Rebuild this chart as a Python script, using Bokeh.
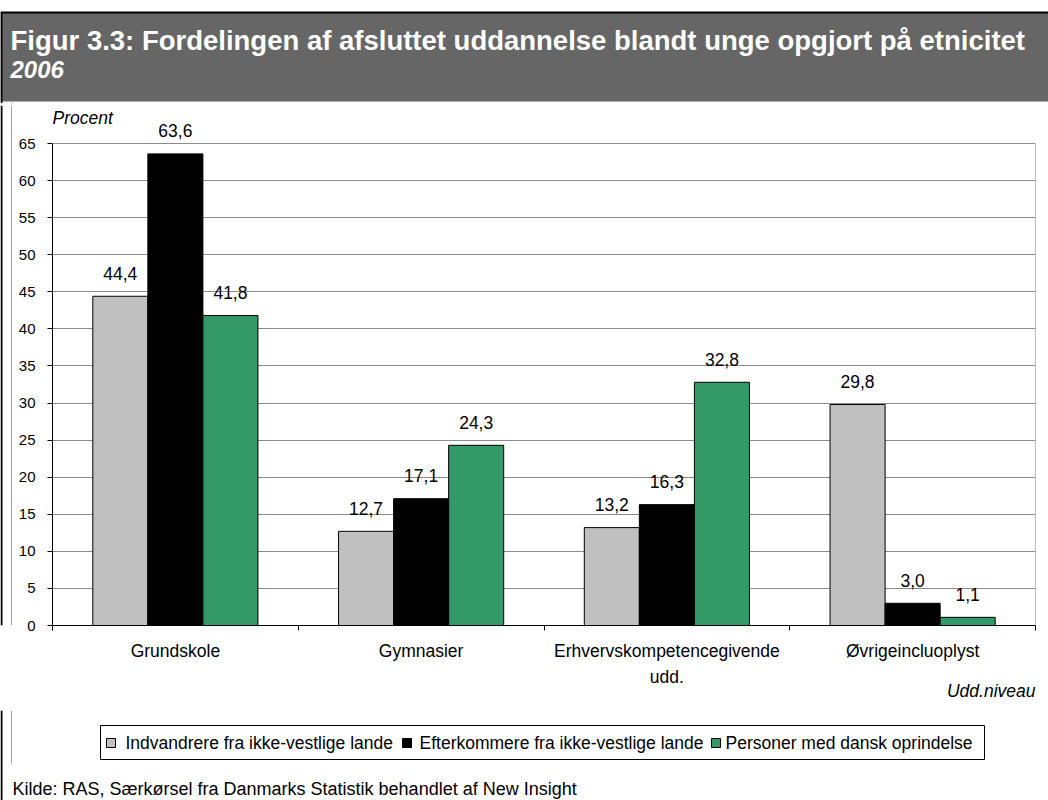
from bokeh.plotting import figure
from bokeh.models import Range1d, FixedTicker, Title
from bokeh.layouts import column, row
from bokeh.embed import file_html
from bokeh.resources import INLINE
from bokeh.core.properties import value

# ---------------- data ----------------
categories = ["Grundskole", "Gymnasier", "Erhvervskompetencegivende\nudd.", "Øvrigeincluoplyst"]
series_names = ["Indvandrere fra ikke-vestlige lande",
                "Efterkommere fra ikke-vestlige lande",
                "Personer med dansk oprindelse"]
indvandrere = [44.4, 12.7, 13.2, 29.8]
efterkommere = [63.6, 17.1, 16.3, 3.0]
dansk = [41.8, 24.3, 32.8, 1.1]
y_ticks = [0, 5, 10, 15, 20, 25, 30, 35, 40, 45, 50, 55, 60, 65]
y_max = 65
colors = ["#C0C0C0", "#000000", "#339966"]
title_text = "Figur 3.3: Fordelingen af afsluttet uddannelse blandt unge opgjort på etnicitet"
subtitle_text = "2006"
source_text = "Kilde: RAS, Særkørsel fra Danmarks Statistik behandlet af New Insight"
y_label = "Procent"
x_label = "Udd.niveau"

FONT = "Liberation Sans"
W = 1048
H_HDR, H_MAIN, H_FOOT = 103, 607, 90
STRIP = 14
TXT = "17.5px"
# frame spans 520 px; the value 65 sits 482 px above the x axis
Y_TOP = y_max * 520 / 482

def blank(width, height):
    f = figure(width=width, height=height, x_range=Range1d(0, width), y_range=Range1d(height, 0),
               toolbar_location=None, output_backend="svg", min_border=0,
               x_axis_location=None, y_axis_location=None)
    f.grid.visible = False
    f.outline_line_color = None
    return f

# ---------------- header ----------------
hdr = blank(W, H_HDR)
hdr.quad(left=[0], right=[W], top=[12], bottom=[101], fill_color="#666666", line_color=None)
hdr.segment(x0=[0], y0=[12], x1=[W], y1=[12], line_color="black", line_width=2)
hdr.segment(x0=[1], y0=[12], x1=[1], y1=[H_HDR], line_color="black", line_width=2)
hdr.segment(x0=[11], y0=[101], x1=[11], y1=[H_HDR], line_color="#A0A0A0", line_width=1)
hdr.text(x=[10], y=[40], text=[title_text], text_color="white", text_font=value(FONT),
         text_font_style="bold", text_font_size="27.5px", text_baseline="middle")
hdr.text(x=[10], y=[69], text=[subtitle_text], text_color="white", text_font=value(FONT),
         text_font_style="bold italic", text_font_size="24px", text_baseline="middle")

# ---------------- left strip ----------------
strip = blank(STRIP, H_MAIN)
strip.segment(x0=[11], y0=[0], x1=[11], y1=[H_MAIN], line_color="#A0A0A0", line_width=1)
strip.segment(x0=[1], y0=[0], x1=[1], y1=[H_MAIN], line_color="black", line_width=2)

# ---------------- main chart ----------------
n = len(categories)
p = figure(width=W - STRIP, height=H_MAIN, x_range=Range1d(0, n), y_range=Range1d(0, Y_TOP),
           toolbar_location=None, output_backend="svg",
           min_border_left=38, min_border_right=13, min_border_top=2, min_border_bottom=85)
p.outline_line_color = None
p.xgrid.visible = False
p.ygrid.grid_line_color = "#8C8C8C"
p.ygrid.ticker = FixedTicker(ticks=y_ticks)
# right border of the plot area
p.segment(x0=[n], y0=[0], x1=[n], y1=[y_max], line_color="#808080", line_width=1)

bw = 0.224
for s, vals in enumerate([indvandrere, efterkommere, dansk]):
    xs = [i + 0.5 + (s - 1) * bw for i in range(n)]
    p.vbar(x=xs, top=vals, width=bw, bottom=0, fill_color=colors[s], line_color="black", line_width=1)
    p.text(x=xs, y=vals, text=[f"{v:.1f}".replace(".", ",") for v in vals],
           text_font=value(FONT), text_font_size=TXT, text_color="black",
           text_align="center", text_baseline="middle", y_offset=-23)

p.text(x=[0], y=[y_max], text=[y_label], text_font=value(FONT), text_font_size=TXT,
       text_font_style="italic", text_color="black", text_baseline="middle", y_offset=-26)

xa = p.xaxis[0]
xa.ticker = FixedTicker(ticks=[i + 0.5 for i in range(n)], minor_ticks=list(range(n + 1)))
xa.major_label_overrides = {i + 0.5: c for i, c in enumerate(categories)}
xa.major_tick_line_color = None
xa.minor_tick_line_color = "black"
xa.minor_tick_out = 5
xa.minor_tick_in = 0
xa.axis_line_color = "black"
xa.major_label_text_font = FONT
xa.major_label_text_font_size = TXT
xa.major_label_text_color = "black"
xa.major_label_standoff = 9
xa.major_label_text_line_height = 1.3

ya = p.yaxis[0]
ya.ticker = FixedTicker(ticks=y_ticks)
ya.bounds = (0, y_max)
ya.axis_line_color = "black"
ya.major_tick_line_color = "black"
ya.major_tick_out = 5
ya.major_tick_in = 0
ya.minor_tick_line_color = None
ya.major_label_text_font = FONT
ya.major_label_text_font_size = "15px"
ya.major_label_text_color = "black"
ya.major_label_standoff = 12

p.add_layout(Title(text=x_label, align="right", text_font=FONT, text_font_size=TXT,
                   text_font_style="italic", text_color="black", standoff=-21), "below")

# ---------------- footer (legend + source) ----------------
foot = blank(W, H_FOOT)
foot.segment(x0=[11], y0=[0], x1=[11], y1=[53], line_color="#A0A0A0", line_width=1)
foot.segment(x0=[1], y0=[0], x1=[1], y1=[H_FOOT], line_color="black", line_width=2)
foot.quad(left=[100], right=[984], top=[15], bottom=[49], fill_color="white", line_color="black", line_width=1)
sw_x = [106, 402, 711]
txt_x = [125, 419, 725]
foot.quad(left=sw_x, right=[x + 9 for x in sw_x], top=[28] * 3, bottom=[37] * 3,
          fill_color=colors, line_color="black", line_width=1)
foot.text(x=txt_x, y=[32] * 3, text=series_names, text_font=value(FONT),
          text_font_size=TXT, text_color="black", text_baseline="middle")
foot.text(x=[12], y=[78], text=[source_text], text_font=value(FONT), text_font_size="18px",
          text_color="black", text_baseline="middle")

layout = column(hdr, row(strip, p), foot)
open("out.html", "w").write(file_html(layout, INLINE))
